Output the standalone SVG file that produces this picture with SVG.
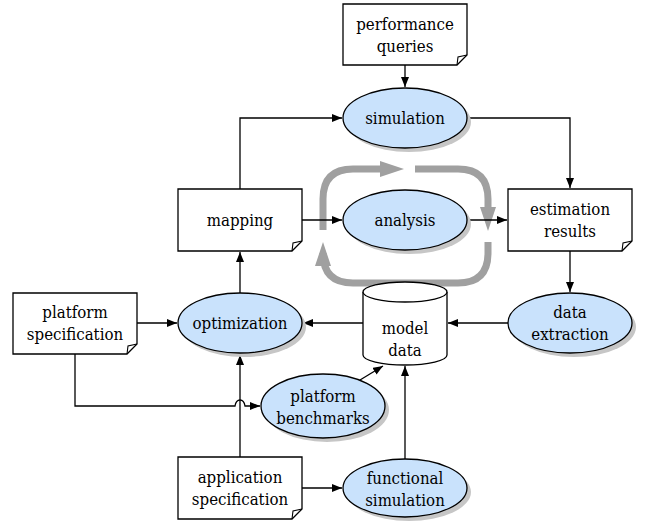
<svg xmlns="http://www.w3.org/2000/svg" width="648" height="524" viewBox="0 0 648 524">
<defs>
<style>
.box{fill:#fff;stroke:#000;stroke-width:1.3}
.fold{fill:none;stroke:#000;stroke-width:1.1}
.ell{fill:#c9e2fc;stroke:#000;stroke-width:1.3}
.shd{fill:#c6c6c6}
.t{font-family:'DejaVu Serif Condensed','DejaVu Serif',serif;font-stretch:condensed;font-size:16.7px;text-anchor:middle;fill:#000}
.c{fill:none;stroke:#000;stroke-width:1.3}
.g{fill:none;stroke:#a0a0a0;stroke-width:7}
.gh{fill:#a0a0a0}
</style>
<marker id="ah" viewBox="0 0 10 8" refX="10" refY="4" markerWidth="10" markerHeight="8" markerUnits="userSpaceOnUse" orient="auto">
<path d="M0,0 L10,4 L0,8 Z" fill="#000"/>
</marker>
</defs>

<g id="loop">
<path class="g" d="M323,230 V199 Q323,169 353,169 H382"/>
<polygon class="gh" points="380,161 404,169 380,177"/>
<path class="g" d="M415,169 H458 Q488,169 488,199 V209"/>
<polygon class="gh" points="480,207 488,231 496,207"/>
<path class="g" d="M488,242 V253 Q488,283 458,283 H353 Q323,283 323,253 V264"/>
<polygon class="gh" points="315,266 323,242 331,266"/>
</g>

<g id="connectors">
<path class="c" d="M405,65 V87" marker-end="url(#ah)"/>
<path class="c" d="M240,189 V118 H342" marker-end="url(#ah)"/>
<path class="c" d="M467,118 H570 V188" marker-end="url(#ah)"/>
<path class="c" d="M302,220 H342" marker-end="url(#ah)"/>
<path class="c" d="M467,220 H507" marker-end="url(#ah)"/>
<path class="c" d="M570,251 V292" marker-end="url(#ah)"/>
<path class="c" d="M508,323 H448" marker-end="url(#ah)"/>
<path class="c" d="M363,323 H303" marker-end="url(#ah)"/>
<path class="c" d="M137,323 H177" marker-end="url(#ah)"/>
<path class="c" d="M240,293 V252" marker-end="url(#ah)"/>
<path class="c" d="M240,457 V355" marker-end="url(#ah)"/>
<path class="c" d="M75,354 V406 H235 Q236,400 240,400 Q244,400 245,406 H260" marker-end="url(#ah)"/>
<path class="c" d="M360,380 L383,366" marker-end="url(#ah)"/>
<path class="c" d="M405,460 V366" marker-end="url(#ah)"/>
<path class="c" d="M302,488 H342" marker-end="url(#ah)"/>
</g>

<g id="performance-queries">
<path class="box" d="M343,4 H467 V55 L457,65 H343 Z"/>
<path class="fold" d="M457,65 L458,57 L467,55"/>
<text class="t" x="405" y="30">performance</text>
<text class="t" x="405" y="52">queries</text>
</g>

<g id="simulation">
<ellipse class="shd" cx="409" cy="122" rx="62" ry="30"/>
<ellipse class="ell" cx="405" cy="118" rx="62" ry="30"/>
<text class="t" x="405" y="124">simulation</text>
</g>

<g id="mapping">
<path class="box" d="M178,189 H302 V241 L292,251 H178 Z"/>
<path class="fold" d="M292,251 L293,243 L302,241"/>
<text class="t" x="240" y="226">mapping</text>
</g>

<g id="analysis">
<ellipse class="shd" cx="409" cy="224" rx="62" ry="30"/>
<ellipse class="ell" cx="405" cy="220" rx="62" ry="30"/>
<text class="t" x="405" y="226">analysis</text>
</g>

<g id="estimation-results">
<path class="box" d="M508,189 H632 V241 L622,251 H508 Z"/>
<path class="fold" d="M622,251 L623,243 L632,241"/>
<text class="t" x="570" y="215">estimation</text>
<text class="t" x="570" y="237">results</text>
</g>

<g id="platform-specification">
<path class="box" d="M13,293 H137 V344 L127,354 H13 Z"/>
<path class="fold" d="M127,354 L128,346 L137,344"/>
<text class="t" x="75" y="318">platform</text>
<text class="t" x="75" y="340">specification</text>
</g>

<g id="optimization">
<ellipse class="shd" cx="244" cy="327" rx="62" ry="30"/>
<ellipse class="ell" cx="240" cy="323" rx="62" ry="30"/>
<text class="t" x="240" y="329">optimization</text>
</g>

<g id="model-data">
<path class="box" d="M363,292 V355 A42,10 0 0 0 447,355 V292"/>
<ellipse class="box" cx="405" cy="292" rx="42" ry="10"/>
<text class="t" x="405" y="334">model</text>
<text class="t" x="405" y="356">data</text>
</g>

<g id="data-extraction">
<ellipse class="shd" cx="574" cy="327" rx="62" ry="30"/>
<ellipse class="ell" cx="570" cy="323" rx="62" ry="30"/>
<text class="t" x="570" y="318">data</text>
<text class="t" x="570" y="340">extraction</text>
</g>

<g id="platform-benchmarks">
<ellipse class="shd" cx="327" cy="410" rx="62" ry="32"/>
<ellipse class="ell" cx="323" cy="406" rx="62" ry="32"/>
<text class="t" x="323" y="402">platform</text>
<text class="t" x="323" y="424">benchmarks</text>
</g>

<g id="application-specification">
<path class="box" d="M178,457 H302 V509 L292,519 H178 Z"/>
<path class="fold" d="M292,519 L293,511 L302,509"/>
<text class="t" x="240" y="483">application</text>
<text class="t" x="240" y="505">specification</text>
</g>

<g id="functional-simulation">
<ellipse class="shd" cx="409" cy="492" rx="62" ry="29"/>
<ellipse class="ell" cx="405" cy="488" rx="62" ry="29"/>
<text class="t" x="405" y="484">functional</text>
<text class="t" x="405" y="506">simulation</text>
</g>
</svg>
